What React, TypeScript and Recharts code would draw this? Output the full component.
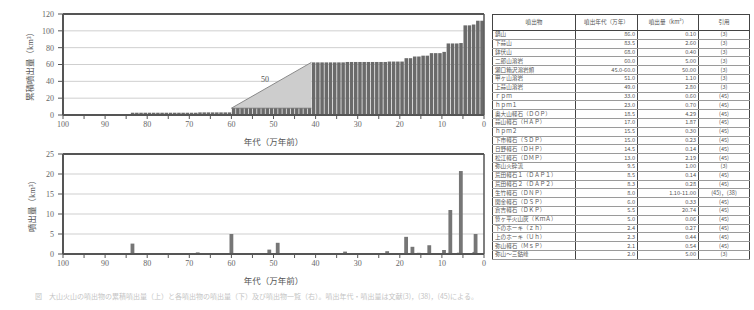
import React from "react";
import {
  ComposedChart,
  Bar,
  Area,
  XAxis,
  YAxis,
  CartesianGrid,
  ReferenceLine,
  ReferenceDot,
} from "recharts";

const FONT = '"Liberation Serif", "Noto Sans CJK JP", serif';
const INK = "#555";

// x ticks every 5 (labels only on 10s)
const xTicks = [0, 5, 10, 15, 20, 25, 30, 35, 40, 45, 50, 55, 60, 65, 70, 75, 80, 85, 90, 95, 100];
const cumTicks = [0, 20, 40, 60, 80, 100, 120];
const volTicks = [0, 5, 10, 15, 20, 25];

// cumulative volume steps (万年前, km3)
const stepFrom = [100, 86, 84, 68, 60, 41, 33, 23, 19, 17, 15, 13, 10, 9, 6, 5, 3, 2];
const stepTo = [86, 84, 68, 60, 41, 33, 23, 19, 17, 15, 13, 10, 9, 6, 5, 3, 2, 0];
const stepTotal = [0, 0.1, 2.7, 3.1, 8.1, 62.5, 63, 63.5, 67.5, 69.5, 70.5, 73.5, 75, 85, 85.5, 106.5, 107.5, 112];

// 50 km3 spread over 60-41 (light triangle)
const triYears = [60, 41];
const triLow = [8.1, 8.1];
const triHigh = [8.1, 62.5];

// single eruptions, lower chart
const barAges = [86, 83.5, 68, 60, 51, 49, 33, 23, 18.5, 17, 15.5, 15, 14.5, 13, 9.5, 8.5, 8.3, 8, 6, 5.5, 5, 2.4, 2.3, 2.1, 2];
const barVolumes = [0.1, 2.6, 0.4, 5, 1.1, 2.8, 0.6, 0.7, 4.29, 1.8, 0.3, 0.23, 0.14, 2.19, 1.0, 0.14, 0.28, 11.0, 0.33, 20.74, 0.06, 0.27, 0.44, 0.54, 5.0];

// table
const tableHead = ["噴出物", "噴出年代（万年）", "噴出量（km³）", "引用"];
const tableNames = [
  "鍋山", "下蒜山", "鉢伏山", "二郎山溶岩", "瀬口箱沢溶岩類", "甲ヶ山溶岩", "上蒜山溶岩",
  "ｒｐｍ", "ｈｐｍ１", "奥大山軽石（ＤＯＰ）", "蒜山軽石（ＨＡＰ）", "ｈｐｍ２",
  "下市軽石（ＳＤＰ）", "日野軽石（ＤＨＰ）", "松江軽石（ＤＭＰ）", "弥山火砕流",
  "荒田軽石１（ＤＡＰ１）", "荒田軽石２（ＤＡＰ２）", "生竹軽石（ＤＮＰ）", "関金軽石（ＤＳＰ）",
  "倉吉軽石（ＤＫＰ）", "笹ヶ平火山灰（ＫｍＡ）", "下のホーキ（ｚｈ）", "上のホーキ（Ｕｈ）",
  "弥山軽石（ＭｓＰ）", "弥山～三鈷峰",
];
const tableAges = [
  "86.0", "83.5", "68.0", "60.0", "45.0-60.0", "51.0", "49.0", "33.0", "23.0", "18.5", "17.0", "15.5", "15.0",
  "14.5", "13.0", "9.5", "8.5", "8.3", "8.0", "6.0", "5.5", "5.0", "2.4", "2.3", "2.1", "2.0",
];
const tableVolumes = [
  "0.10", "2.60", "0.40", "5.00", "50.00", "1.10", "2.80", "0.60", "0.70", "4.29", "1.87", "0.30", "0.23",
  "0.14", "2.19", "1.00", "0.14", "0.28", "1.10-11.00", "0.33", "20.74", "0.06", "0.27", "0.44", "0.54", "5.00",
];
const tableRefs = [
  "(3)", "(3)", "(3)", "(3)", "(3)", "(3)", "(3)", "(45)", "(45)", "(45)", "(45)", "(45)", "(45)",
  "(45)", "(45)", "(3)", "(45)", "(45)", "(45)，(38)", "(45)", "(45)", "(45)", "(45)", "(45)", "(45)", "(3)",
];

const cumData = Array.from({ length: 100 }, (_, i) => {
  const year = 99.5 - i;
  const k = stepFrom.findIndex((f, j) => year < f && year > stepTo[j]);
  return { year, total: stepTotal[k] };
});
const triData = triYears.map((year, i) => ({ year, range: [triLow[i], triHigh[i]] }));
const volData = barAges.map((year, i) => ({ year, vol: barVolumes[i] }));

const fmtX = (v: number) => (v % 10 === 0 ? String(v) : "");
const tick = { fill: "#666", fontSize: 8, fontFamily: FONT };
const axisLine = { stroke: INK, strokeWidth: 2 };
const labelStyle = { fill: "#555", fontSize: 8.5, fontFamily: FONT };

// fixed-width column centred on the bar's value (numeric axis band sizes are uneven)
const fixedBar = (w: number, color: string) => (p: any) => {
  if (!p.height || p.height <= 0) return <g />;
  return <rect x={p.x + p.width / 2 - w / 2} y={p.y} width={w} height={p.height} fill={color} />;
};

function CumChart() {
  return (
    <ComposedChart width={490} height={148} data={cumData} margin={{ top: 14, right: 6, bottom: 3, left: 13 }}>
      <CartesianGrid vertical={false} stroke="#cfcfcf" />
      <XAxis
        type="number"
        dataKey="year"
        domain={[0, 100]}
        reversed
        ticks={xTicks}
        interval={0}
        tickFormatter={fmtX}
        tick={tick}
        tickSize={4}
        tickLine={{ stroke: INK }}
        axisLine={axisLine}
        height={30}
        allowDataOverflow
        label={{ value: "年代（万年前）", position: "insideBottom", offset: 0, ...labelStyle }}
      />
      <YAxis
        type="number"
        domain={[0, 120]}
        ticks={cumTicks}
        interval={0}
        tick={tick}
        tickSize={5}
        tickMargin={4}
        tickLine={{ stroke: INK }}
        axisLine={axisLine}
        width={50}
        label={{ value: "累積噴出量（km³）", angle: -90, position: "insideLeft", offset: 17, style: { textAnchor: "middle" }, ...labelStyle }}
      />
      <Bar dataKey="total" fill="#6a6a6a" shape={fixedBar(3.5, "#6a6a6a")} isAnimationActive={false} />
      <Area data={triData} dataKey="range" type="linear" fill="#cdcdcd" fillOpacity={1} stroke="#8a8a8a" strokeWidth={1} isAnimationActive={false} />
      <ReferenceLine y={120} stroke={INK} strokeWidth={2} />
      <ReferenceLine x={0} stroke={INK} strokeWidth={1.5} />
      <ReferenceDot x={52} y={43} r={1} fill="none" stroke="none" label={{ value: "50", position: "center", ...labelStyle, fontSize: 8 }} />
    </ComposedChart>
  );
}

function VolChart() {
  return (
    <ComposedChart width={490} height={148} data={volData} margin={{ top: 6, right: 6, bottom: 12, left: 13 }}>
      <CartesianGrid vertical={false} stroke="#cfcfcf" />
      <XAxis
        type="number"
        dataKey="year"
        domain={[0, 100]}
        reversed
        ticks={xTicks}
        interval={0}
        tickFormatter={fmtX}
        tick={tick}
        tickSize={4}
        tickLine={{ stroke: INK }}
        axisLine={axisLine}
        height={30}
        allowDataOverflow
        label={{ value: "年代（万年前）", position: "insideBottom", offset: 0, ...labelStyle }}
      />
      <YAxis
        type="number"
        domain={[0, 25]}
        ticks={volTicks}
        interval={0}
        tick={tick}
        tickSize={5}
        tickMargin={4}
        tickLine={{ stroke: INK }}
        axisLine={axisLine}
        width={50}
        allowDataOverflow
        label={{ value: "噴出量（km³）", angle: -90, position: "insideLeft", offset: 19, style: { textAnchor: "middle" }, ...labelStyle }}
      />
      <Bar dataKey="vol" fill="#767676" shape={fixedBar(3.8, "#767676")} isAnimationActive={false} />
      <ReferenceLine y={25} stroke={INK} strokeWidth={2} />
      <ReferenceLine x={0} stroke={INK} strokeWidth={1.5} />
    </ComposedChart>
  );
}

const cell: React.CSSProperties = {
  borderLeft: "1px solid #444",
  borderRight: "1px solid #444",
  borderBottom: "1px solid #9a9a9a",
  padding: "0 2px",
  fontSize: 5.6,
  lineHeight: "7px",
  color: "#555",
  whiteSpace: "nowrap",
  overflow: "hidden",
};

function EruptionTable() {
  const widths = [83, 62, 61, 51];
  return (
    <table
      style={{
        position: "absolute",
        left: 492,
        top: 14,
        width: 257,
        borderCollapse: "collapse",
        border: "1.5px solid #444",
        tableLayout: "fixed",
        fontFamily: '"Noto Sans CJK JP", sans-serif',
      }}
    >
      <colgroup>
        {widths.map((w, i) => (
          <col key={i} style={{ width: w }} />
        ))}
      </colgroup>
      <thead>
        <tr style={{ height: 16 }}>
          {tableHead.map((h, i) => (
            <th key={i} style={{ ...cell, fontWeight: "normal", textAlign: "center", borderBottom: "1.5px solid #444" }}>
              {h}
            </th>
          ))}
        </tr>
      </thead>
      <tbody>
        {tableNames.map((name, i) => (
          <tr key={i} style={{ height: 8.8 }}>
            <td style={{ ...cell, textAlign: "left" }}>{name}</td>
            <td style={{ ...cell, textAlign: "right" }}>{tableAges[i]}</td>
            <td style={{ ...cell, textAlign: "right" }}>{tableVolumes[i]}</td>
            <td style={{ ...cell, textAlign: "center" }}>{tableRefs[i]}</td>
          </tr>
        ))}
      </tbody>
    </table>
  );
}

export default function App() {
  return (
    <div style={{ position: "absolute", left: 0, top: 0, width: 754, height: 310, background: "#fff", overflow: "hidden" }}>
      <div style={{ position: "absolute", left: 0, top: 0 }}>
        <CumChart />
      </div>
      <div style={{ position: "absolute", left: 0, top: 148 }}>
        <VolChart />
      </div>
      <EruptionTable />
      <div
        style={{
          position: "absolute",
          left: 35,
          top: 292,
          width: 452,
          fontSize: 7,
          lineHeight: "9px",
          color: "#c4c4c4",
          whiteSpace: "nowrap",
          overflow: "hidden",
          fontFamily: '"Noto Sans CJK JP", sans-serif',
        }}
      >
        図　大山火山の噴出物の累積噴出量（上）と各噴出物の噴出量（下）及び噴出物一覧（右）。噴出年代・噴出量は文献(3)，(38)，(45)による。
      </div>
    </div>
  );
}
